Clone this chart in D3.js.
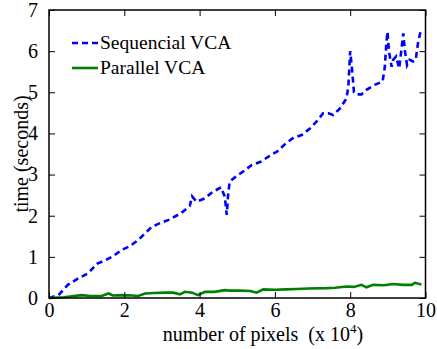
<!DOCTYPE html>
<html>
<head>
<meta charset="utf-8">
<script src="https://cdn.jsdelivr.net/npm/d3@7"></script>
<style>
  body { margin: 0; background: #fff; }
  text { font-family: "Liberation Serif", "Times New Roman", serif; fill: #000; }
</style>
</head>
<body>
<svg id="svg" width="437" height="349"></svg>
<script>
// sequential VCA timing (x in units of 10^4 pixels, y in seconds)
var seqX = [0, 0.25, 0.5, 0.78, 1.04, 1.27, 1.5, 1.71, 1.93, 2.15, 2.37, 2.55, 2.73, 2.95, 3.21, 3.52, 3.74, 3.8, 3.92, 4.14, 4.35, 4.57, 4.67, 4.72, 4.76, 4.8, 4.96, 5.18, 5.38, 5.62, 5.85, 6.06, 6.29, 6.5, 6.71, 6.93, 7.11, 7.28, 7.42, 7.55, 7.73, 7.9, 7.95, 8.0, 8.05, 8.1, 8.17, 8.3, 8.43, 8.65, 8.86, 8.92, 8.96, 8.99, 9.03, 9.1, 9.14, 9.22, 9.3, 9.36, 9.41, 9.45, 9.51, 9.58, 9.67, 9.74, 9.8, 9.88];
var seqY = [0, 0.07, 0.32, 0.48, 0.6, 0.83, 0.92, 1.02, 1.17, 1.26, 1.41, 1.57, 1.73, 1.82, 1.91, 2.07, 2.24, 2.47, 2.34, 2.42, 2.58, 2.69, 2.46, 2.02, 2.54, 2.83, 2.95, 3.09, 3.23, 3.31, 3.45, 3.56, 3.76, 3.9, 3.96, 4.12, 4.29, 4.49, 4.49, 4.45, 4.61, 4.85, 5.14, 6.0, 5.54, 5.0, 4.95, 4.95, 5.06, 5.18, 5.26, 5.62, 6.19, 6.47, 5.99, 5.62, 5.79, 5.87, 5.58, 6.03, 6.43, 6.03, 5.66, 5.79, 5.75, 5.79, 6.19, 6.53];

// parallel VCA timing
var parX = [0, 0.4, 0.87, 1.1, 1.4, 1.58, 1.7, 1.93, 2.2, 2.37, 2.55, 2.8, 3.1, 3.3, 3.48, 3.61, 3.8, 3.96, 4.14, 4.4, 4.67, 4.8, 5.1, 5.35, 5.51, 5.69, 6.0, 6.3, 6.57, 6.9, 7.37, 7.6, 7.9, 8.1, 8.3, 8.43, 8.61, 8.9, 9.14, 9.4, 9.63, 9.72, 9.89];
var parY = [0, 0.02, 0.07, 0.05, 0.05, 0.11, 0.06, 0.07, 0.06, 0.05, 0.11, 0.12, 0.13, 0.13, 0.09, 0.15, 0.13, 0.07, 0.15, 0.15, 0.19, 0.18, 0.18, 0.17, 0.13, 0.21, 0.2, 0.21, 0.22, 0.23, 0.24, 0.25, 0.28, 0.27, 0.32, 0.26, 0.32, 0.31, 0.34, 0.32, 0.32, 0.37, 0.33];

var xTicks = [0, 2, 4, 6, 8, 10];
var yTicks = [0, 1, 2, 3, 4, 5, 6, 7];
var seriesNames = ["Sequencial VCA", "Parallel VCA"];
var seriesColors = ["#0000ff", "#008000"];

var svg = d3.select("#svg");
var plotL = 49, plotR = 425.5, plotT = 10, plotB = 298;

var x = d3.scaleLinear().domain([0, 10]).range([plotL, plotR]);
var y = d3.scaleLinear().domain([0, 7]).range([plotB, plotT]);

var line = d3.line()
  .x(function(d) { return x(d[0]); })
  .y(function(d) { return y(d[1]); });

// lines
svg.append("path")
  .datum(d3.zip(seqX, seqY))
  .attr("d", line)
  .attr("fill", "none")
  .attr("stroke", seriesColors[0])
  .attr("stroke-width", 2.6)
  .attr("stroke-dasharray", "6,4");

svg.append("path")
  .datum(d3.zip(parX, parY))
  .attr("d", line)
  .attr("fill", "none")
  .attr("stroke", seriesColors[1])
  .attr("stroke-width", 2.6);

// axes: ticks inward on all four sides
function styleAxis(g) {
  g.select(".domain").remove();
  g.selectAll("line").attr("stroke", "#000").attr("stroke-width", 1);
  g.selectAll("text").style("font-size", "20px").attr("font-family", "Liberation Serif");
}

svg.append("g")
  .attr("transform", "translate(0," + plotB + ")")
  .call(d3.axisBottom(x).tickValues(xTicks).tickSizeInner(-6).tickFormat(d3.format("d")))
  .call(styleAxis)
  .selectAll("text").attr("y", 5).attr("dy", "0.71em");

svg.append("g")
  .attr("transform", "translate(0," + plotT + ")")
  .call(d3.axisTop(x).tickValues(xTicks).tickSizeInner(-6).tickFormat(""))
  .call(styleAxis);

svg.append("g")
  .attr("transform", "translate(" + plotL + ",0)")
  .call(d3.axisLeft(y).tickValues(yTicks).tickSizeInner(-6).tickPadding(11).tickFormat(d3.format("d")))
  .call(styleAxis);

svg.append("g")
  .attr("transform", "translate(" + plotR + ",0)")
  .call(d3.axisRight(y).tickValues(yTicks).tickSizeInner(-6).tickFormat(""))
  .call(styleAxis);

// frame
svg.append("rect")
  .attr("x", plotL).attr("y", plotT)
  .attr("width", plotR - plotL).attr("height", plotB - plotT)
  .attr("fill", "none").attr("stroke", "#000").attr("stroke-width", 1.5);

// axis labels
var xl = svg.append("text")
  .attr("x", 263).attr("y", 341)
  .attr("text-anchor", "middle")
  .style("font-size", "20px")
  .style("white-space", "pre");
xl.append("tspan").text("number of pixels  (x 10");
xl.append("tspan").attr("dy", -8).style("font-size", "13px").text("4");
xl.append("tspan").attr("dy", 8).text(")");

svg.append("text")
  .attr("transform", "translate(28,154) rotate(-90)")
  .attr("text-anchor", "middle")
  .style("font-size", "20px")
  .text("time (seconds)");

// legend
var legend = svg.selectAll(".legend").data(seriesNames).enter()
  .append("g")
  .attr("transform", function(d, i) { return "translate(72," + (43 + i * 25) + ")"; });

legend.append("line")
  .attr("x1", 0).attr("x2", 26)
  .attr("stroke", function(d, i) { return seriesColors[i]; })
  .attr("stroke-width", 2.6)
  .attr("stroke-dasharray", function(d, i) { return i === 0 ? "6,4" : null; });

legend.append("text")
  .attr("x", 28).attr("y", 6)
  .style("font-size", "19.5px")
  .text(function(d) { return d; });
</script>
</body>
</html>
